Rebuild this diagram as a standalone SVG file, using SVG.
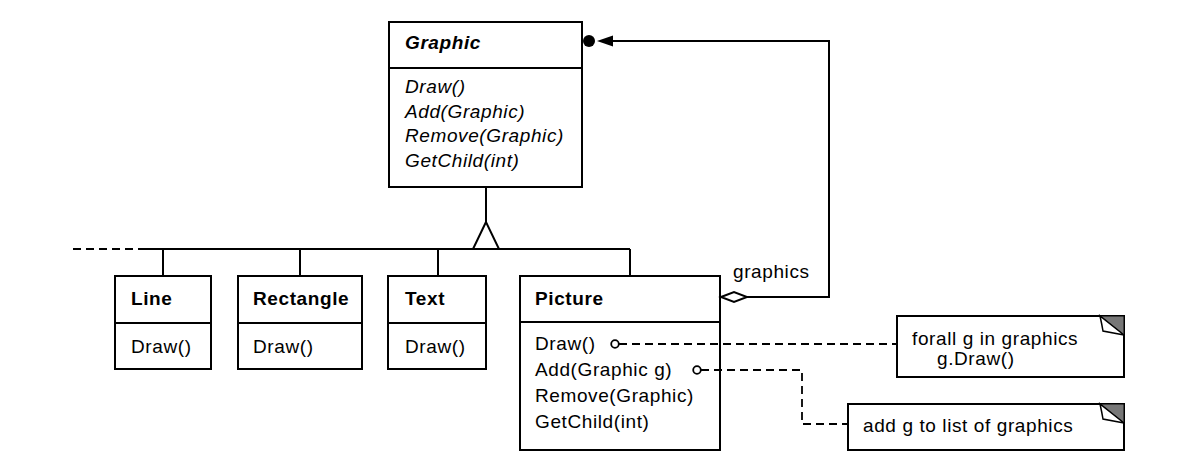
<svg xmlns="http://www.w3.org/2000/svg" width="1191" height="470" viewBox="0 0 1191 470">
<style>
.box{fill:#fff;stroke:#000;stroke-width:2}
.ln{fill:none;stroke:#000;stroke-width:2}
.dash{fill:none;stroke:#000;stroke-width:1.8;stroke-dasharray:8 5}
text{font-family:"Liberation Sans",Arial,sans-serif;font-size:19px;letter-spacing:0.6px;fill:#000}
.b{font-weight:bold}
.i{font-style:italic}
</style>
<rect width="1191" height="470" fill="#fff"/>
<g id="graphic">
<rect class="box" x="389" y="22" width="193" height="165"/>
<line class="ln" x1="389" y1="68" x2="582" y2="68"/>
<text class="b i" x="405" y="49">Graphic</text>
<text class="i" x="405" y="93">Draw()</text>
<text class="i" x="405" y="118">Add(Graphic)</text>
<text class="i" x="405" y="142">Remove(Graphic)</text>
<text class="i" x="405" y="167">GetChild(int)</text>
</g>
<g id="line">
<rect class="box" x="115" y="276" width="96" height="93"/>
<line class="ln" x1="115" y1="323" x2="211" y2="323"/>
<text class="b" x="131" y="305">Line</text>
<text x="131" y="353">Draw()</text>
</g>
<g id="rectangle">
<rect class="box" x="238" y="276" width="124" height="93"/>
<line class="ln" x1="238" y1="323" x2="362" y2="323"/>
<text class="b" x="253" y="305">Rectangle</text>
<text x="253" y="353">Draw()</text>
</g>
<g id="text">
<rect class="box" x="388" y="276" width="98" height="93"/>
<line class="ln" x1="388" y1="323" x2="486" y2="323"/>
<text class="b" x="405" y="305">Text</text>
<text x="405" y="353">Draw()</text>
</g>
<g id="picture">
<rect class="box" x="520" y="276" width="200" height="174"/>
<line class="ln" x1="520" y1="322" x2="720" y2="322"/>
<text class="b" x="535" y="305">Picture</text>
<text x="535" y="350">Draw()</text>
<text x="535" y="376">Add(Graphic g)</text>
<text x="535" y="402">Remove(Graphic)</text>
<text x="535" y="428">GetChild(int)</text>
</g>
<g id="note1">
<rect class="box" x="897" y="316" width="227" height="61"/>
<polygon points="1100,316 1124,316 1124,335" fill="#777" stroke="#000" stroke-width="1"/>
<path d="M1100,316 Q1102,325 1103,331 L1124,335 Z" fill="#fff" stroke="#000" stroke-width="1.5"/>
<text x="912" y="345">forall g in graphics</text>
<text x="937" y="365">g.Draw()</text>
</g>
<g id="note2">
<rect class="box" x="848" y="404" width="276" height="46"/>
<polygon points="1100,404 1124,404 1124,423" fill="#777" stroke="#000" stroke-width="1"/>
<path d="M1100,404 Q1102,413 1103,419 L1124,423 Z" fill="#fff" stroke="#000" stroke-width="1.5"/>
<text x="863" y="432">add g to list of graphics</text>
</g>
<g id="connectors">
<line class="dash" x1="73" y1="249" x2="143" y2="249"/>
<line class="ln" x1="143" y1="249" x2="630" y2="249"/>
<line class="ln" x1="163" y1="249" x2="163" y2="276"/>
<line class="ln" x1="300" y1="249" x2="300" y2="276"/>
<line class="ln" x1="438" y1="249" x2="438" y2="276"/>
<line class="ln" x1="630" y1="249" x2="630" y2="276"/>
<line class="ln" x1="486" y1="187" x2="486" y2="222"/>
<polygon points="486,222 473,249 499,249" fill="#fff" stroke="#000" stroke-width="2"/>
<polyline class="ln" points="747,297 829,297 829,41 612,41"/>
<polygon points="721,297 734,292 747,297 734,302" fill="#fff" stroke="#000" stroke-width="2"/>
<polygon points="597,41 613,35.5 613,46.5" fill="#000"/>
<circle cx="589" cy="41" r="6" fill="#000"/>
<circle cx="615" cy="344" r="3.8" fill="#fff" stroke="#000" stroke-width="1.8"/>
<line class="dash" x1="619" y1="344" x2="897" y2="344"/>
<circle cx="697" cy="370" r="3.8" fill="#fff" stroke="#000" stroke-width="1.8"/>
<polyline class="dash" points="701,370 802,370 802,424 848,424"/>
<text x="733" y="278">graphics</text>
</g>
</svg>
